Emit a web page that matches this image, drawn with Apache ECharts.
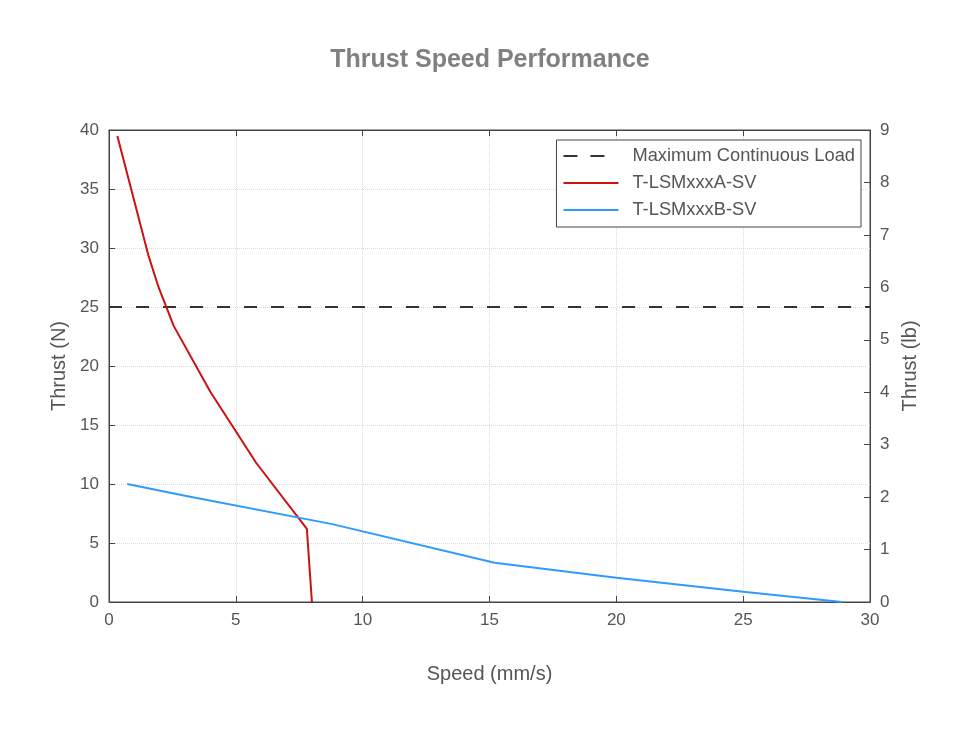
<!DOCTYPE html>
<html>
<head>
<meta charset="utf-8">
<script src="https://cdn.jsdelivr.net/npm/echarts@6/dist/echarts.min.js"></script>
<style>
  html, body { margin: 0; padding: 0; background: #fff; }
  #chart { width: 968px; height: 732px; }
</style>
</head>
<body>
<div id="chart"></div>
<script>
// speed (mm/s) / thrust (N)
const speedA = [0.33, 1.55, 1.95, 2.55, 4.0, 5.8, 7.8, 8.0];
const thrustA = [39.5, 29.4, 26.7, 23.4, 17.8, 11.8, 6.2, 0];
const speedB = [0.72, 3.0, 8.8, 15.2, 20, 25, 28.9];
const thrustB = [10.0, 9.0, 6.6, 3.33, 2.06, 0.87, 0];
const loadSpeed = [0, 30];
const loadThrust = [25, 25];
const names = ['Maximum Continuous Load', 'T-LSMxxxA-SV', 'T-LSMxxxB-SV'];

const font = 'Liberation Sans, Arial, sans-serif';
const axisGrey = '#555';
const frame = '#444';

const pairs = (xs, ys) => xs.map((x, i) => [x, ys[i]]);

const chart = echarts.init(document.getElementById('chart'));

const option = {
    backgroundColor: '#fff',
    animation: false,
    textStyle: { fontFamily: font },
    title: {
        text: 'Thrust Speed Performance',
        left: 485,
        textAlign: 'center',
        top: 43,
        textStyle: { fontSize: 25, fontWeight: 'bold', color: '#808080', fontFamily: font }
    },
    legend: {
        orient: 'vertical',
        right: 107,
        top: 140,
        itemWidth: 55,
        itemHeight: 16,
        itemGap: 9,
        padding: [7, 6, 8, 6],
        borderColor: frame,
        borderWidth: 1,
        borderRadius: 0,
        backgroundColor: '#fff',
        itemStyle: { color: 'transparent', borderWidth: 0 },
        textStyle: { fontSize: 18.3, color: axisGrey, padding: [0, 0, 0, 9] },
        data: [
            { name: names[0], lineStyle: { type: [14, 13, 14, 30] } },
            names[1],
            names[2]
        ]
    },
    grid: {
        left: 109, right: 98, top: 130, bottom: 130,
        show: true, borderColor: frame, borderWidth: 1
    },
    xAxis: [{
        type: 'value', min: 0, max: 30, interval: 5,
        name: 'Speed (mm/s)', nameLocation: 'middle', nameGap: 62,
        nameTextStyle: { fontSize: 20, color: axisGrey },
        axisLine: { show: true, onZero: false, lineStyle: { color: frame } },
        axisTick: { inside: true, length: 6, lineStyle: { color: frame } },
        axisLabel: { fontSize: 17, color: axisGrey, margin: 10 },
        splitLine: { show: true, lineStyle: { type: 'dotted', color: '#d8d8e0' } }
    }, {
        type: 'value', min: 0, max: 30, interval: 5, position: 'top',
        axisLine: { show: true, onZero: false, lineStyle: { color: frame } },
        axisTick: { inside: true, length: 6, lineStyle: { color: frame } },
        axisLabel: { show: false },
        splitLine: { show: false }
    }],
    yAxis: [{
        type: 'value', min: 0, max: 40, interval: 5, position: 'left',
        name: 'Thrust (N)', nameLocation: 'middle', nameGap: 40, nameRotate: 90,
        nameTextStyle: { fontSize: 20, color: axisGrey },
        axisLine: { show: true, onZero: false, lineStyle: { color: frame } },
        axisTick: { inside: true, length: 6, lineStyle: { color: frame } },
        axisLabel: { fontSize: 17, color: axisGrey, margin: 10 },
        splitLine: { show: true, lineStyle: { type: 'dotted', color: '#d8d8e0' } }
    }, {
        type: 'value', min: 0, max: 9, interval: 1, position: 'right',
        alignTicks: false,
        name: 'Thrust (lb)', nameLocation: 'middle', nameGap: 30, nameRotate: 90,
        nameTextStyle: { fontSize: 20, color: axisGrey },
        axisLine: { show: true, onZero: false, lineStyle: { color: frame } },
        axisTick: { show: true, inside: true, length: 6, lineStyle: { color: frame } },
        axisLabel: { fontSize: 17, color: axisGrey, margin: 10 },
        splitLine: { show: false }
    }],
    series: [{
        name: names[0],
        type: 'line',
        symbol: 'none',
        lineStyle: { color: '#333', width: 1.8, type: [13, 14] },
        itemStyle: { color: '#333' },
        data: pairs(loadSpeed, loadThrust)
    }, {
        name: names[1],
        type: 'line',
        symbol: 'none',
        lineStyle: { color: '#cc1111', width: 2 },
        itemStyle: { color: '#cc1111' },
        data: pairs(speedA, thrustA)
    }, {
        name: names[2],
        type: 'line',
        symbol: 'none',
        lineStyle: { color: '#2e9bff', width: 2 },
        itemStyle: { color: '#2e9bff' },
        data: pairs(speedB, thrustB)
    }]
};

chart.setOption(option);
</script>
</body>
</html>
